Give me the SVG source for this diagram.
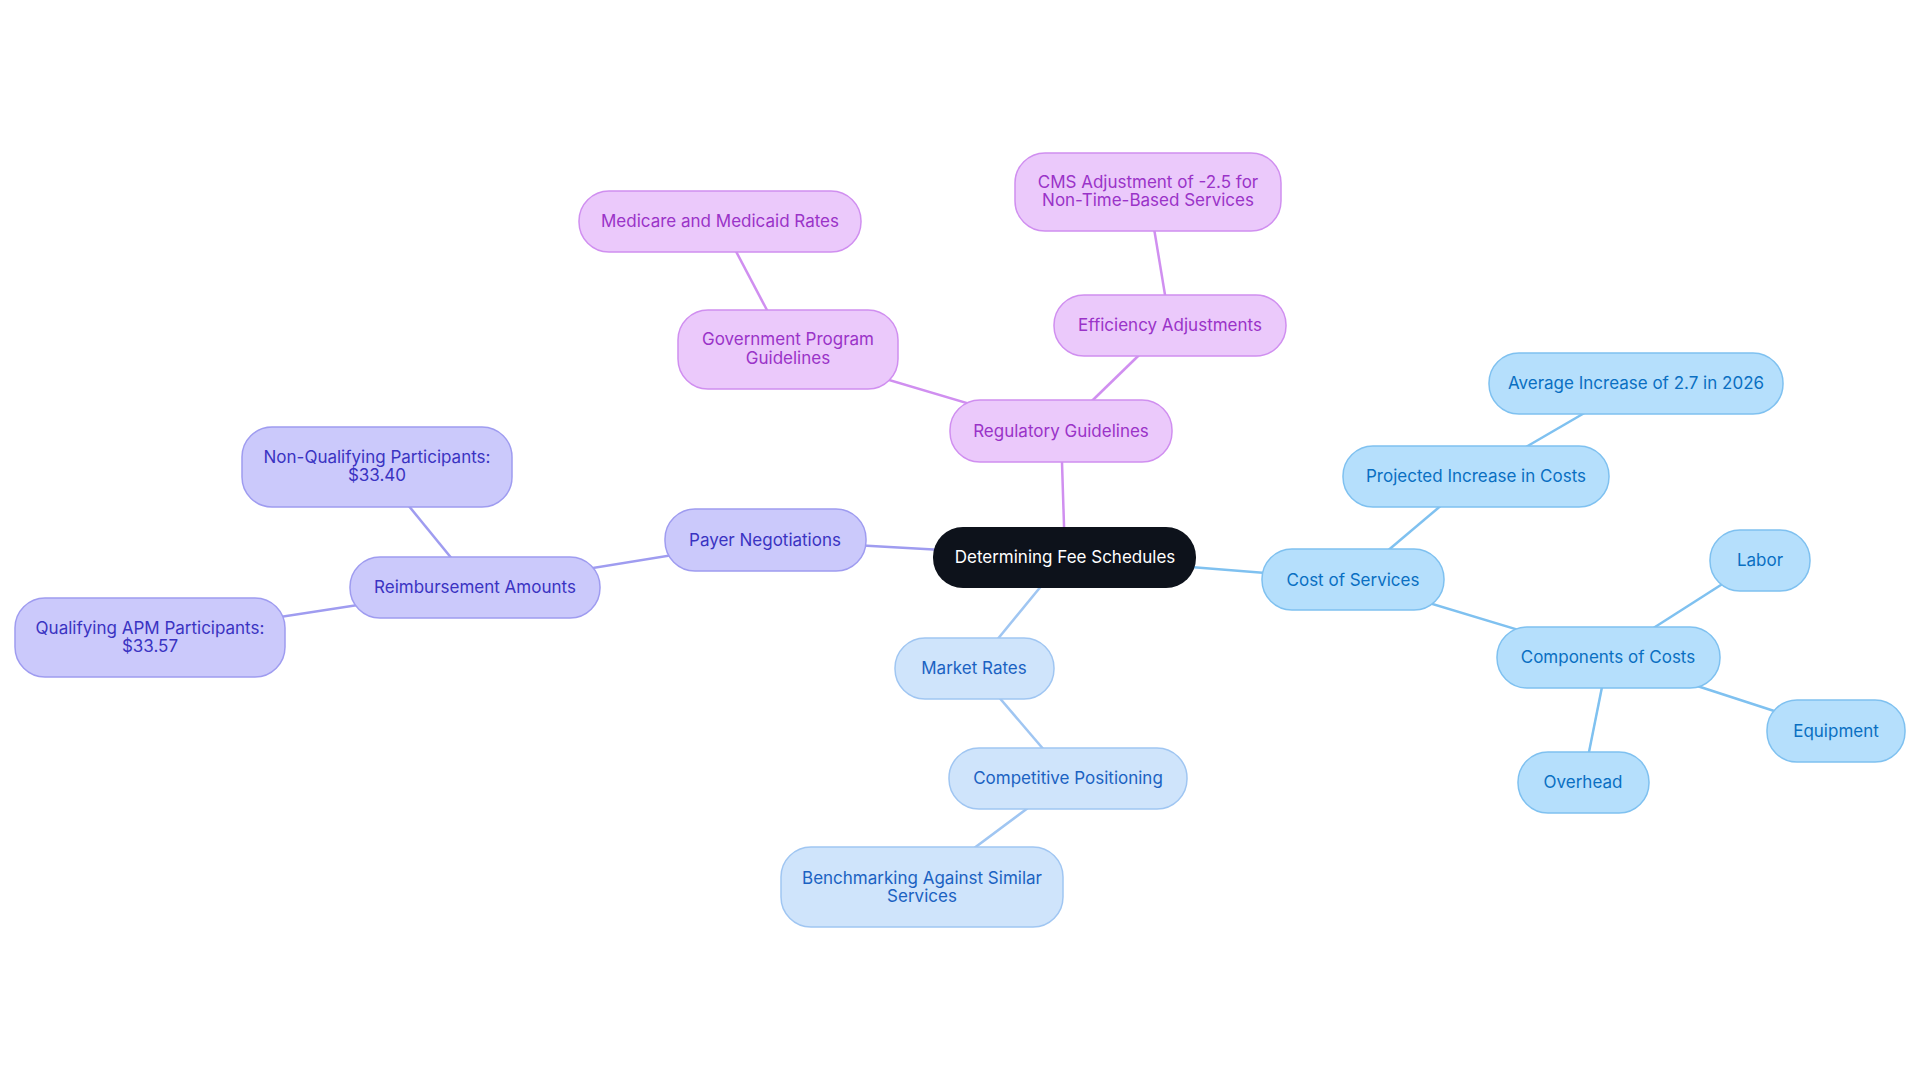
<svg xmlns="http://www.w3.org/2000/svg" width="1920" height="1083" viewBox="0 0 1920 1083">
<style>
text{font-family:Inter,"Noto Sans",sans-serif;font-size:17px;text-anchor:middle;dominant-baseline:central}
.b rect{fill:#b5dffc;stroke:#7fc1f0;stroke-width:1.5}.b text{fill:#0a6fc2}
.m rect{fill:#cfe4fb;stroke:#a0c6f2;stroke-width:1.5}.m text{fill:#1b62c2}
.p rect{fill:#cbc9fb;stroke:#9f9cf0;stroke-width:1.5}.p text{fill:#3a33c2}
.v rect{fill:#ebc9fb;stroke:#d08ff0;stroke-width:1.5}.v text{fill:#9a33c8}
.c rect{fill:#0d121b}.c text{fill:#fff}
#edges line{stroke-width:2.5}
</style>
<rect width="1920" height="1083" fill="#fff"/>
<g id="edges">
<line x1="1065" y1="557" x2="1353" y2="580" stroke="#7fc1f0"/>
<line x1="1353" y1="580" x2="1476" y2="476" stroke="#7fc1f0"/>
<line x1="1476" y1="476" x2="1636" y2="383" stroke="#7fc1f0"/>
<line x1="1353" y1="580" x2="1608" y2="657" stroke="#7fc1f0"/>
<line x1="1608" y1="657" x2="1760" y2="560" stroke="#7fc1f0"/>
<line x1="1608" y1="657" x2="1836" y2="731" stroke="#7fc1f0"/>
<line x1="1608" y1="657" x2="1583" y2="782" stroke="#7fc1f0"/>
<line x1="1065" y1="557" x2="974" y2="668" stroke="#a0c6f2"/>
<line x1="974" y1="668" x2="1068" y2="778" stroke="#a0c6f2"/>
<line x1="1068" y1="778" x2="922" y2="887" stroke="#a0c6f2"/>
<line x1="1065" y1="557" x2="765" y2="540" stroke="#9f9cf0"/>
<line x1="765" y1="540" x2="475" y2="587" stroke="#9f9cf0"/>
<line x1="475" y1="587" x2="377" y2="467" stroke="#9f9cf0"/>
<line x1="475" y1="587" x2="150" y2="637" stroke="#9f9cf0"/>
<line x1="1065" y1="557" x2="1061" y2="431" stroke="#d08ff0"/>
<line x1="1061" y1="431" x2="788" y2="350" stroke="#d08ff0"/>
<line x1="788" y1="350" x2="720" y2="221" stroke="#d08ff0"/>
<line x1="1061" y1="431" x2="1170" y2="325" stroke="#d08ff0"/>
<line x1="1170" y1="325" x2="1148" y2="192" stroke="#d08ff0"/>
</g>
<g id="n-center" class="c"><rect x="933" y="527" width="263" height="61" rx="30"/><text x="1065" y="557">Determining Fee Schedules</text></g>
<g id="n-cost" class="b"><rect x="1262" y="549" width="182" height="61" rx="30"/><text x="1353" y="580">Cost of Services</text></g>
<g id="n-proj" class="b"><rect x="1343" y="446" width="266" height="61" rx="30"/><text x="1476" y="476">Projected Increase in Costs</text></g>
<g id="n-avg" class="b"><rect x="1489" y="353" width="294" height="61" rx="30"/><text x="1636" y="383">Average Increase of 2.7 in 2026</text></g>
<g id="n-comp" class="b"><rect x="1497" y="627" width="223" height="61" rx="30"/><text x="1608" y="657">Components of Costs</text></g>
<g id="n-labor" class="b"><rect x="1710" y="530" width="100" height="61" rx="30"/><text x="1760" y="560">Labor</text></g>
<g id="n-equip" class="b"><rect x="1767" y="700" width="138" height="62" rx="30"/><text x="1836" y="731">Equipment</text></g>
<g id="n-over" class="b"><rect x="1518" y="752" width="131" height="61" rx="30"/><text x="1583" y="782">Overhead</text></g>
<g id="n-market" class="m"><rect x="895" y="638" width="159" height="61" rx="30"/><text x="974" y="668">Market Rates</text></g>
<g id="n-compet" class="m"><rect x="949" y="748" width="238" height="61" rx="30"/><text x="1068" y="778">Competitive Positioning</text></g>
<g id="n-bench" class="m"><rect x="781" y="847" width="282" height="80" rx="30"/><text x="922" y="878">Benchmarking Against Similar</text><text x="922" y="896">Services</text></g>
<g id="n-payer" class="p"><rect x="665" y="509" width="201" height="62" rx="30"/><text x="765" y="540">Payer Negotiations</text></g>
<g id="n-reimb" class="p"><rect x="350" y="557" width="250" height="61" rx="30"/><text x="475" y="587">Reimbursement Amounts</text></g>
<g id="n-nonq" class="p"><rect x="242" y="427" width="270" height="80" rx="30"/><text x="377" y="457">Non-Qualifying Participants:</text><text x="377" y="475">$33.40</text></g>
<g id="n-qual" class="p"><rect x="15" y="598" width="270" height="79" rx="30"/><text x="150" y="628">Qualifying APM Participants:</text><text x="150" y="646">$33.57</text></g>
<g id="n-reg" class="v"><rect x="950" y="400" width="222" height="62" rx="30"/><text x="1061" y="431">Regulatory Guidelines</text></g>
<g id="n-gov" class="v"><rect x="678" y="310" width="220" height="79" rx="30"/><text x="788" y="339">Government Program</text><text x="788" y="358">Guidelines</text></g>
<g id="n-medi" class="v"><rect x="579" y="191" width="282" height="61" rx="30"/><text x="720" y="221">Medicare and Medicaid Rates</text></g>
<g id="n-eff" class="v"><rect x="1054" y="295" width="232" height="61" rx="30"/><text x="1170" y="325">Efficiency Adjustments</text></g>
<g id="n-cms" class="v"><rect x="1015" y="153" width="266" height="78" rx="30"/><text x="1148" y="182">CMS Adjustment of -2.5 for</text><text x="1148" y="200">Non-Time-Based Services</text></g>
</svg>
